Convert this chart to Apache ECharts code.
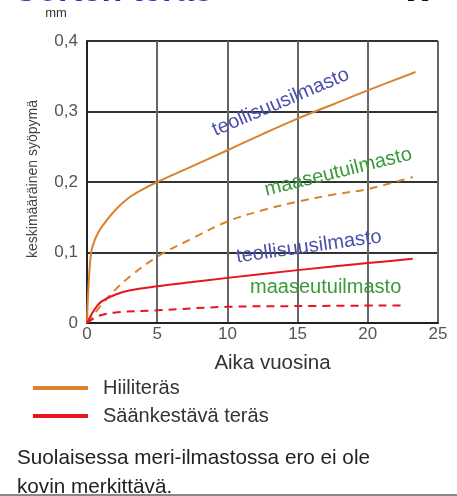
<!DOCTYPE html>
<html><head><meta charset="utf-8">
<script src="https://cdn.jsdelivr.net/npm/echarts@6/dist/echarts.min.js"></script>
<style>html,body{margin:0;padding:0;background:#fff}#c{width:457px;height:496px}</style>
</head><body><div id="c"></div>
<script>
// Data (years, mm)
const hiiliTeollisuus = [[0,0],[0.1,0.05],[0.3,0.1],[0.6,0.12],[1,0.135],[2,0.16],[3,0.178],[4,0.19],[5,0.2],[7,0.218],[10,0.245],[12.5,0.268],[15,0.29],[17.5,0.31],[20,0.33],[23.4,0.356]];
const hiiliMaaseutu = [[0,0],[1,0.025],[2,0.047],[3,0.065],[5,0.094],[7.5,0.12],[10,0.144],[12.5,0.16],[15,0.172],[17.5,0.182],[20,0.19],[23.2,0.207]];
const saaTeollisuus = [[0,0],[0.5,0.018],[1,0.03],[2,0.04],[3,0.046],[5,0.052],[7.5,0.058],[10,0.064],[15,0.075],[20,0.085],[23.2,0.091]];
const saaMaaseutu = [[0,0],[0.5,0.007],[1,0.011],[2,0.015],[5,0.018],[10,0.023],[15,0.024],[22.6,0.025]];
const xTicks = [0,5,10,15,20,25];
const yTicks = [0,0.1,0.2,0.3,0.4];
const legendNames = ['Hiiliteräs','Säänkestävä teräs'];
// annotation labels: text, anchor [x,y] in data units, rotation deg
const annTexts = ['teollisuusilmasto','maaseutuilmasto','teollisuusilmasto','maaseutuilmasto'];
const annAnchors = [[13.8,0.313],[17.9,0.214],[15.8,0.108],[17.0,0.051]];
const annRot = [23,14,8,0];

const ORANGE = '#d9832f', RED = '#e8141e';
const chart = echarts.init(document.getElementById('c'), null, {renderer:'canvas'});
const font = 'Liberation Sans, Arial, sans-serif';
function line(name, data, color, dashed){
  return {name, type:'line', data, smooth:0.35, showSymbol:false, symbol:'none',
    lineStyle:{color, width:2, type: dashed ? [8,6] : 'solid'}, itemStyle:{color}, z:3};
}
chart.setOption({
  animation:false,
  textStyle:{fontFamily:font},
  grid:{left:87, right:19, top:41, bottom:173},
  xAxis:{type:'value', min:0, max:25, interval:5,
    name:'Aika vuosina', nameLocation:'middle', nameGap:30,
    nameTextStyle:{fontSize:20.5, color:'#333', fontFamily:font, padding:[0,0,0,20]},
    axisLine:{show:true, lineStyle:{color:'#222', width:2}},
    axisTick:{show:false},
    axisLabel:{color:'#555', fontSize:17, margin:3, formatter:v=>xTicks.includes(v)?String(v):''},
    splitLine:{show:true, lineStyle:{color:'#666', width:2}}},
  yAxis:{type:'value', min:0, max:0.4, interval:0.1,
    axisLine:{show:true, lineStyle:{color:'#222', width:2}},
    axisTick:{show:false},
    axisLabel:{color:'#555', fontSize:17, margin:9, formatter:v=>{const t=yTicks.find(k=>Math.abs(k-v)<1e-9); return t===undefined?'':String(+t.toFixed(1)).replace('.',',');}},
    splitLine:{show:true, lineStyle:{color:'#333', width:2}}},
  legend:{left:33, top:378, padding:0, orient:'vertical', itemWidth:55, itemHeight:4, itemGap:8,
    data:legendNames.map((n,i)=>({name:n, icon:'rect', itemStyle:{color:i?RED:ORANGE}})),
    textStyle:{fontSize:20, color:'#333', fontFamily:font, padding:[0,0,0,10]}},
  series:[
    line(legendNames[0], hiiliTeollisuus, ORANGE, false),
    line(legendNames[0], hiiliMaaseutu, ORANGE, true),
    line(legendNames[1], saaTeollisuus, RED, false),
    line(legendNames[1], saaMaaseutu, RED, true)
  ]
});
const annColors = ['#4b4fae','#3a9a3a','#4b4fae','#3a9a3a'];
const graphics = [
  {type:'text', x:213, y:-8.5, style:{text:'Corten teräs', font:'bold 34px '+font, fill:'#2b2bc0', align:'right', verticalAlign:'middle'}},
  {type:'text', x:418, y:-8, style:{text:'W', font:'bold 34px '+font, fill:'#111', align:'center', verticalAlign:'middle'}},
  {type:'text', x:56, y:13, style:{text:'mm', font:'13px '+font, fill:'#333', align:'center', verticalAlign:'middle'}},
  {type:'text', x:33, y:179, rotation:Math.PI/2, style:{text:'keskimääräinen syöpymä', font:'14px '+font, fill:'#444', align:'center', verticalAlign:'middle'}},
  {type:'text', x:17, y:458, style:{text:'Suolaisessa meri-ilmastossa ero ei ole', font:'20.7px '+font, fill:'#222', verticalAlign:'middle'}},
  {type:'text', x:17, y:487, style:{text:'kovin merkittävä.', font:'20.7px '+font, fill:'#222', verticalAlign:'middle'}},
  {type:'rect', shape:{x:0, y:494, width:457, height:2}, style:{fill:'#888'}, z:20}
];
annTexts.forEach((t,i)=>{
  const p = chart.convertToPixel({gridIndex:0}, annAnchors[i]);
  graphics.push({type:'text', x:p[0], y:p[1], rotation:annRot[i]*Math.PI/180,
    style:{text:t, font:'20px '+font, fill:annColors[i], align:'center', verticalAlign:'middle'}, z:10});
});
chart.setOption({graphic:graphics});
</script></body></html>
